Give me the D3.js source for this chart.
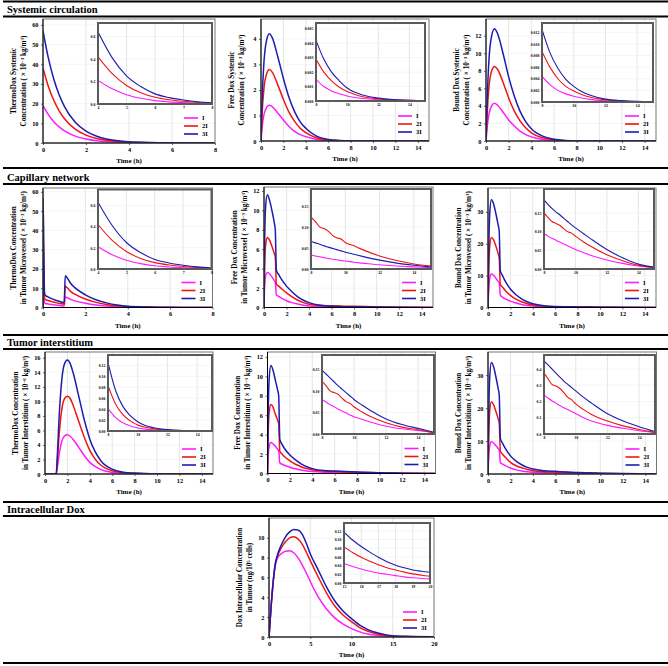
<!DOCTYPE html>
<html><head><meta charset="utf-8">
<script src="https://cdn.jsdelivr.net/npm/d3@7/dist/d3.min.js"></script>
<style>
body{margin:0;background:#fff}
svg{display:block}
text{font-family:"Liberation Serif","Times New Roman",serif;font-weight:bold;fill:#000}
</style>
</head><body>
<svg id="c" width="668" height="666"></svg>
<script>
// ---------- series labels ----------
const seriesNames = ["I", "2I", "3I"];
const seriesColors = ["#ff1aff", "#ee1515", "#1c1cb0"];

// ---------- tick labels ----------
const ticks8 = [0, 2, 4, 6, 8];
const ticks15 = [0, 2, 4, 6, 8, 10, 12, 14];
const ticks20 = [0, 5, 10, 15, 20];
const insetTicks4to8 = [4, 5, 6, 7, 8];
const insetTicks8to15 = [8, 10, 12, 14];
const insetTicks15to20 = [15, 16, 17, 18, 19, 20];

// ---------- P1 ThermoDox systemic ----------
const p1_t  = [0,0.25,0.5,0.75,1,1.5,2,2.5,3,3.5,4,5,6,7,8];
const p1_I  = [19,14.4,10.8,8.2,6.2,3.5,2.0,1.13,0.65,0.37,0.21,0.083,0.03,0.012,0.004];
const p1_2I = [38,28.7,21.7,16.3,12.3,7.0,4.0,2.27,1.3,0.73,0.42,0.165,0.06,0.024,0.007];
const p1_3I = [57,43.1,32.5,24.5,18.5,10.5,6.0,3.4,1.95,1.1,0.64,0.25,0.09,0.036,0.01];
const p1in_t  = [4,4.5,5,5.5,6,6.5,7,7.5,8];
const p1in_I  = [0.21,0.135,0.083,0.051,0.03,0.019,0.012,0.007,0.004];
const p1in_2I = [0.42,0.27,0.165,0.10,0.06,0.038,0.024,0.014,0.007];
const p1in_3I = [0.64,0.41,0.25,0.155,0.09,0.057,0.036,0.02,0.01];

// ---------- P2 Free Dox systemic ----------
const p2_t  = [0,0.1,0.25,0.5,0.75,1,1.5,2,2.5,3,3.5,4,5,6,7,8,10,12,15];
const p2_I  = [0,0.53,1.0,1.32,1.4,1.35,1.1,0.82,0.57,0.38,0.25,0.17,0.06,0.02,0.007,0.0015,0.0003,0.00007,0.00001];
const p2_2I = [0,1.07,2.0,2.63,2.8,2.7,2.2,1.63,1.13,0.77,0.5,0.33,0.12,0.04,0.013,0.003,0.0006,0.00014,0.00001];
const p2_3I = [0,1.6,3.0,3.95,4.2,4.05,3.3,2.45,1.7,1.15,0.75,0.5,0.18,0.06,0.02,0.004,0.0009,0.0002,0.00002];
const p2in_t  = [8,8.5,9,9.5,10,10.5,11,12,13,14,15];
const p2in_I  = [0.0015,0.001,0.0007,0.0005,0.00034,0.00024,0.00017,0.00009,0.00005,0.00003,0.00001];
const p2in_2I = [0.0029,0.002,0.0014,0.00095,0.00065,0.00045,0.0003,0.00015,0.00008,0.00004,0.00002];
const p2in_3I = [0.0042,0.0029,0.002,0.0014,0.0009,0.0006,0.00042,0.0002,0.0001,0.00005,0.00002];

// ---------- P3 Bound Dox systemic ----------
const p3_t  = [0,0.1,0.25,0.5,0.75,1,1.5,2,2.5,3,3.5,4,5,6,7,8,10,12,15];
const p3_I  = [0,1.5,3.0,4.0,4.3,4.1,3.3,2.4,1.7,1.13,0.73,0.47,0.18,0.07,0.02,0.0043,0.0009,0.00017,0.00002];
const p3_2I = [0,3.0,6.0,8.0,8.5,8.2,6.7,4.9,3.4,2.3,1.5,0.93,0.37,0.13,0.04,0.0087,0.0018,0.0003,0.00003];
const p3_3I = [0,4.5,9.0,12.0,12.8,12.3,10.0,7.3,5.1,3.4,2.2,1.4,0.55,0.2,0.06,0.0125,0.0027,0.0005,0.00005];
const p3in_t  = [8,8.5,9,9.5,10,10.5,11,12,13,14,15];
const p3in_I  = [0.0044,0.003,0.002,0.0014,0.001,0.0007,0.00045,0.0002,0.0001,0.00005,0.00002];
const p3in_2I = [0.0087,0.006,0.004,0.0027,0.0019,0.0013,0.00085,0.00037,0.00017,0.00008,0.00004];
const p3in_3I = [0.0125,0.0085,0.0058,0.0039,0.0027,0.0018,0.0012,0.0005,0.00025,0.0001,0.00005];

// ---------- P4 ThermoDox tumor microvessel ----------
const p4_t  = [0,0.005,0.07,0.1,0.2,0.4,0.6,0.8,1.0,1.05,1.1,1.3,1.5,2,2.5,3,3.5,4,5,6,7,8];
const p4_I  = [0,19,2.7,2.1,1.9,1.53,1.27,1.03,0.83,5.5,5.35,4.2,3.45,2.2,1.33,0.8,0.43,0.21,0.083,0.03,0.012,0.004];
const p4_2I = [0,38,5.3,4.2,3.8,3.07,2.53,2.07,1.67,11.0,10.7,8.4,6.9,4.4,2.67,1.6,0.87,0.42,0.165,0.06,0.024,0.007];
const p4_3I = [0,57,8,6.3,5.7,4.6,3.8,3.1,2.5,16.5,16.0,12.6,10.3,6.6,4.0,2.4,1.3,0.64,0.25,0.09,0.036,0.01];
const p4in_t  = [4,4.5,5,5.5,6,6.5,7,7.5,8];
const p4in_I  = [0.21,0.135,0.083,0.051,0.03,0.019,0.012,0.007,0.004];
const p4in_2I = [0.42,0.27,0.165,0.10,0.06,0.038,0.024,0.014,0.007];
const p4in_3I = [0.63,0.41,0.25,0.155,0.09,0.057,0.036,0.02,0.01];

// ---------- P5 Free Dox tumor microvessel ----------
const p5_t  = [0,0.05,0.15,0.3,0.5,0.7,0.9,1.0,1.1,1.3,1.5,2,2.5,3,3.5,4,5,6,7,8,10,12,15];
const p5_I  = [0,2,3.3,3.6,3.45,3.15,2.8,2.6,1.3,1.15,1.0,0.7,0.5,0.35,0.24,0.15,0.08,0.055,0.042,0.033,0.019,0.01,0.003];
const p5_2I = [0,4,6.5,7.2,6.9,6.3,5.6,5.2,2.4,2.2,2.0,1.5,1.1,0.75,0.5,0.33,0.2,0.17,0.14,0.123,0.063,0.031,0.007];
const p5_3I = [0,6,10.5,11.6,11.0,10.0,8.8,8.0,3.8,3.4,3.0,2.2,1.6,1.1,0.75,0.5,0.22,0.12,0.09,0.066,0.04,0.021,0.005];
const p5in_t  = [8,8.25,8.5,8.75,9,9.25,9.5,9.75,10,10.5,11,12,13,14,15];
const p5in_I  = [0.033,0.031,0.029,0.027,0.025,0.023,0.022,0.02,0.019,0.016,0.014,0.01,0.007,0.005,0.003];
const p5in_2I = [0.123,0.113,0.1,0.096,0.09,0.08,0.074,0.071,0.063,0.055,0.046,0.031,0.02,0.012,0.007];
const p5in_3I = [0.066,0.062,0.059,0.055,0.052,0.049,0.046,0.043,0.04,0.035,0.03,0.021,0.014,0.009,0.005];

// ---------- P6 Bound Dox tumor microvessel ----------
const p6_t  = [0,0.05,0.15,0.3,0.5,0.7,0.9,1.0,1.1,1.3,1.5,2,2.5,3,3.5,4,5,6,7,8,10,12,15];
const p6_I  = [0,4.3,9,10.5,10.1,9.2,8.2,7.8,3.9,3.2,2.8,2.0,1.4,0.95,0.65,0.45,0.2,0.12,0.1,0.095,0.052,0.024,0.003];
const p6_2I = [0,9,19,22,21.2,19.3,17,15.5,7.2,6.4,5.5,3.8,2.6,1.8,1.2,0.8,0.38,0.22,0.17,0.15,0.088,0.038,0.004];
const p6_3I = [0,14,29,33.8,32.5,29.5,26,24,11.5,10,8.5,5.8,4.0,2.7,1.8,1.2,0.55,0.3,0.22,0.185,0.11,0.05,0.005];
const p6in_t  = [8,8.25,8.5,8.75,9,9.25,9.5,9.75,10,10.5,11,12,13,14,15];
const p6in_I  = [0.095,0.088,0.082,0.077,0.072,0.067,0.062,0.057,0.052,0.044,0.036,0.024,0.015,0.008,0.003];
const p6in_2I = [0.15,0.138,0.127,0.122,0.117,0.108,0.1,0.096,0.088,0.073,0.06,0.038,0.022,0.01,0.004];
const p6in_3I = [0.185,0.173,0.162,0.153,0.145,0.136,0.127,0.118,0.11,0.095,0.08,0.052,0.03,0.013,0.005];

// ---------- P7 ThermoDox tumor interstitium ----------
const p7_t  = [0,1.0,1.1,1.25,1.5,1.75,2,2.25,2.5,3,3.5,4,4.5,5,6,7,8,10,12,15];
const p7_I  = [0,0,0.85,2.55,4.5,5.25,5.4,5.2,4.8,3.7,2.55,1.6,1.0,0.6,0.22,0.08,0.041,0.0055,0.0008,0.0001];
const p7_2I = [0,0,1.7,5.1,8.9,10.4,10.7,10.4,9.5,7.3,5.1,3.25,2.0,1.2,0.43,0.16,0.083,0.011,0.0016,0.0001];
const p7_3I = [0,0,2.5,7.5,13.0,15.2,15.7,15.2,14.0,10.8,7.5,4.8,3.0,1.8,0.65,0.25,0.125,0.017,0.0025,0.0002];
const p7in_t  = [8,8.5,9,9.5,10,10.5,11,12,13,14,15];
const p7in_I  = [0.041,0.025,0.015,0.0093,0.0056,0.0034,0.0021,0.0008,0.0003,0.00015,0.0001];
const p7in_2I = [0.083,0.05,0.03,0.0185,0.011,0.0068,0.0043,0.0016,0.0007,0.0003,0.0001];
const p7in_3I = [0.125,0.075,0.045,0.028,0.017,0.01,0.0065,0.0025,0.001,0.0004,0.0002];

// ---------- P8 Free Dox tumor interstitium ----------
const p8_t  = [0,0.05,0.15,0.3,0.5,0.7,0.9,1.0,1.1,1.3,1.5,2,2.5,3,3.5,4,5,6,7,8,10,12,15];
const p8_I  = [0,1.5,2.8,3.2,3.05,2.8,2.5,2.35,1.1,0.95,0.85,0.65,0.48,0.35,0.26,0.2,0.13,0.1,0.09,0.08,0.04,0.018,0.003];
const p8_2I = [0,3.3,6.3,7.1,6.8,6.1,5.5,5.1,2.3,2.0,1.75,1.3,0.95,0.7,0.5,0.38,0.25,0.2,0.16,0.122,0.063,0.026,0.003];
const p8_3I = [0,5,9.8,11.1,10.6,9.6,8.6,8.0,3.5,3.0,2.6,1.9,1.4,1.0,0.7,0.5,0.3,0.25,0.2,0.148,0.08,0.035,0.004];
const p8in_t  = [8,8.25,8.5,8.75,9,9.25,9.5,9.75,10,10.5,11,12,13,14,15];
const p8in_I  = [0.08,0.074,0.068,0.063,0.058,0.053,0.049,0.044,0.04,0.034,0.028,0.018,0.012,0.008,0.003];
const p8in_2I = [0.122,0.112,0.1,0.096,0.092,0.083,0.075,0.071,0.063,0.051,0.041,0.026,0.016,0.01,0.003];
const p8in_3I = [0.148,0.139,0.13,0.121,0.112,0.104,0.096,0.088,0.08,0.067,0.055,0.035,0.022,0.013,0.004];

// ---------- P9 Bound Dox tumor interstitium ----------
const p9_t  = [0,0.05,0.15,0.3,0.5,0.7,0.9,1.0,1.1,1.3,1.5,2,2.5,3,3.5,4,5,6,7,8,10,12,15];
const p9_I  = [0,4,8.5,9.8,9.4,8.6,7.8,7.3,3.5,3.0,2.6,1.8,1.25,0.9,0.65,0.5,0.38,0.32,0.27,0.24,0.125,0.053,0.008];
const p9_2I = [0,9,19,21.9,21,19,16.8,15.5,7.0,6.0,5.2,3.5,2.5,1.9,1.35,1.0,0.7,0.55,0.45,0.375,0.185,0.08,0.01];
const p9_3I = [0,14,29,33.8,32.5,29.5,26,24,10.8,9.3,8.0,5.5,3.9,2.8,2.0,1.5,1.0,0.8,0.6,0.45,0.265,0.125,0.015];
const p9in_t  = [8,8.25,8.5,8.75,9,9.25,9.5,9.75,10,10.5,11,12,13,14,15];
const p9in_I  = [0.24,0.222,0.205,0.19,0.175,0.162,0.15,0.138,0.125,0.1,0.08,0.053,0.035,0.02,0.008];
const p9in_2I = [0.375,0.34,0.305,0.295,0.28,0.255,0.225,0.21,0.185,0.15,0.12,0.08,0.05,0.028,0.01];
const p9in_3I = [0.45,0.425,0.40,0.375,0.35,0.325,0.305,0.285,0.265,0.225,0.19,0.125,0.08,0.045,0.015];

// ---------- P10 Intracellular Dox ----------
const p10_t  = [0,0.25,0.5,0.75,1,1.5,2,2.5,3,3.5,4,4.5,5,6,7,8,9,10,11,12,13,14,15,17,20];
const p10_I  = [0,3.0,5.5,7.2,7.9,8.4,8.65,8.7,8.5,8.0,7.3,6.5,5.6,4.0,2.8,1.9,1.3,0.85,0.52,0.3,0.17,0.09,0.045,0.023,0.0095];
const p10_2I = [0,3.0,5.5,7.3,8.1,9.0,9.6,10.0,10.1,9.9,9.4,8.6,7.7,6.0,4.4,3.1,2.2,1.55,0.95,0.58,0.33,0.17,0.083,0.042,0.0155];
const p10_3I = [0,3.0,5.5,7.3,8.2,9.3,10.1,10.6,10.85,10.8,10.4,9.5,8.4,6.7,5.0,3.6,2.6,1.85,1.2,0.75,0.45,0.25,0.117,0.058,0.0247];
const p10in_t  = [15,15.5,16,16.5,17,17.5,18,18.5,19,19.5,20];
const p10in_I  = [0.045,0.038,0.032,0.027,0.023,0.02,0.017,0.014,0.012,0.0105,0.0095];
const p10in_2I = [0.083,0.07,0.059,0.05,0.042,0.035,0.03,0.025,0.021,0.018,0.0155];
const p10in_3I = [0.117,0.099,0.084,0.071,0.059,0.049,0.041,0.035,0.03,0.027,0.0247];

// ---------- section titles & axis labels ----------
const sectionTitles = ["Systemic circulation", "Capillary network", "Tumor interstitium", "Intracellular Dox"];
const xLabel = "Time (h)";

const svg = d3.select("#c");
const FONT = "'Liberation Serif','Times New Roman',serif";

// section separator lines and titles
const sepLines = [1.5, 16.5, 168, 184, 335, 349, 502, 516, 663];
sepLines.forEach(y => svg.append("line").attr("x1", 3).attr("x2", 668).attr("y1", y).attr("y2", y)
  .attr("stroke", "#000").attr("stroke-width", 2));
const titleY = [13, 180.5, 345.5, 512.5];
sectionTitles.forEach((s, i) => svg.append("text").attr("x", 7).attr("y", titleY[i])
  .attr("font-size", 10.5).text(s));

// concentration label builder: parts of [text, isSup]
function conc(exp, unit) {
  return [["( × 10", false], [exp, true], [" " + unit, false], ["3", true], [")", false]];
}

function drawAxisLabels(g, P) {
  const cy = (P.T + P.B) / 2;
  P.ylab.forEach((parts, k) => {
    const xx = P.L - 30 + k * 10;
    const t = g.append("text").attr("transform", `translate(${xx},${cy}) rotate(-90)`)
      .attr("text-anchor", "middle").attr("dy", "0.35em").attr("font-size", 7.2);
    if (typeof parts === "string") { t.text(parts); return; }
    parts.forEach(([s, sup]) => {
      const ts = t.append("tspan").text(s);
      if (sup) ts.attr("font-size", 5).attr("baseline-shift", "45%");
    });
  });
  g.append("text").attr("x", (P.L + P.R) / 2).attr("y", P.B + 20).attr("text-anchor", "middle")
    .attr("font-size", 7).text(xLabel);
}

let clipN = 0;
function drawFrame(g, box, opts) {
  const x = d3.scaleLinear().domain(box.xDom).range([box.L, box.R]);
  const y = d3.scaleLinear().domain(box.yDom).range([box.B, box.T]);
  g.append("rect").attr("x", box.L).attr("y", box.T).attr("width", box.R - box.L).attr("height", box.B - box.T)
    .attr("fill", "#fff");
  // grid
  g.selectAll(null).data(box.xTicks.filter(d => d > box.xDom[0] && d < box.xDom[1])).join("line")
    .attr("x1", d => x(d)).attr("x2", d => x(d)).attr("y1", box.T).attr("y2", box.B)
    .attr("stroke", "#dedede").attr("stroke-width", 0.8);
  g.selectAll(null).data(box.yTicks.filter(d => d > box.yDom[0] && d < box.yDom[1])).join("line")
    .attr("x1", box.L).attr("x2", box.R).attr("y1", d => y(d)).attr("y2", d => y(d))
    .attr("stroke", "#efefef").attr("stroke-width", 0.6);
  // curves
  const id = "clip" + (clipN++);
  svg.append("clipPath").attr("id", id).append("rect")
    .attr("x", box.L).attr("y", box.T - 1).attr("width", box.R - box.L).attr("height", box.B - box.T + 1);
  const line = d3.line().x(d => x(d[0])).y(d => y(d[1])).curve(d3.curveMonotoneX);
  box.series.forEach((vals, i) => {
    g.append("path").attr("d", line(d3.zip(box.t, vals))).attr("fill", "none")
      .attr("stroke", seriesColors[i]).attr("stroke-width", opts.lw).attr("clip-path", `url(#${id})`);
  });
  // axes
  const fs = opts.fs;
  const gx = g.append("g").attr("transform", `translate(0,${box.B})`)
    .call(d3.axisBottom(x).tickValues(box.xTicks).tickSize(opts.tick).tickPadding(opts.pad).tickFormat(d3.format("d")));
  const gy = g.append("g").attr("transform", `translate(${box.L},0)`)
    .call(d3.axisLeft(y).tickValues(box.yTicks).tickSize(opts.tick).tickPadding(opts.pad).tickFormat(d3.format(box.yFmt)));
  [gx, gy].forEach(a => {
    a.select(".domain").remove();
    a.attr("font-size", fs).attr("font-family", FONT).attr("font-weight", "bold");
    a.selectAll("line").attr("stroke", "#000").attr("stroke-width", 0.6);
  });
  // border
  if (opts.inset) {
    g.append("rect").attr("x", box.L).attr("y", box.T).attr("width", box.R - box.L).attr("height", box.B - box.T)
      .attr("fill", "none").attr("stroke", "#5a5a5a").attr("stroke-width", 2);
  } else {
    g.append("rect").attr("x", box.L).attr("y", box.T).attr("width", box.R - box.L).attr("height", box.B - box.T)
      .attr("fill", "none").attr("stroke", "#777").attr("stroke-width", 1);
    g.append("line").attr("x1", box.L).attr("x2", box.L).attr("y1", box.T).attr("y2", box.B).attr("stroke", "#000").attr("stroke-width", 1);
    g.append("line").attr("x1", box.L).attr("x2", box.R).attr("y1", box.B).attr("y2", box.B).attr("stroke", "#000").attr("stroke-width", 1);
  }
}

function drawLegend(g, P) {
  const lx = P.R - 31, ly = P.B - 25;
  seriesNames.forEach((n, i) => {
    g.append("line").attr("x1", lx).attr("x2", lx + 14).attr("y1", ly + i * 8).attr("y2", ly + i * 8)
      .attr("stroke", seriesColors[i]).attr("stroke-width", 1.6);
    g.append("text").attr("x", lx + 18).attr("y", ly + i * 8).attr("dy", "0.35em").attr("font-size", 6.5).text(n);
  });
}

const panels = [
  { main: { L: 43, R: 215, T: 19, B: 143, xDom: [0, 8], xTicks: ticks8, yDom: [0, 63], yTicks: [0,10,20,30,40,50,60], yFmt: "d", t: p1_t, series: [p1_I, p1_2I, p1_3I] },
    inset: { L: 98, R: 212, T: 23, B: 104, xDom: [4, 8], xTicks: insetTicks4to8, yDom: [0, 0.72], yTicks: [0,0.2,0.4,0.6], yFmt: ".1f", t: p1in_t, series: [p1in_I, p1in_2I, p1in_3I] },
    ylab: ["ThermoDox Systemic", [["Concentration ", false]].concat(conc("−3", "kg/m"))] },
  { main: { L: 261, R: 429, T: 19, B: 141, xDom: [0, 15], xTicks: ticks15, yDom: [0, 4.78], yTicks: [0,1,2,3,4], yFmt: "d", t: p2_t, series: [p2_I, p2_2I, p2_3I] },
    inset: { L: 316, R: 425, T: 23, B: 101, xDom: [8, 15], xTicks: insetTicks8to15, yDom: [0, 0.0054], yTicks: [0,0.001,0.002,0.003,0.004,0.005], yFmt: ".3f", t: p2in_t, series: [p2in_I, p2in_2I, p2in_3I] },
    ylab: ["Free Dox Systemic", [["Concentration ", false]].concat(conc("−3", "kg/m"))] },
  { main: { L: 486, R: 656, T: 19, B: 141, xDom: [0, 15], xTicks: ticks15, yDom: [0, 13.9], yTicks: [0,2,4,6,8,10,12], yFmt: "d", t: p3_t, series: [p3_I, p3_2I, p3_3I] },
    inset: { L: 542, R: 653, T: 23, B: 102, xDom: [8, 15], xTicks: insetTicks8to15, yDom: [0, 0.0136], yTicks: [0,0.002,0.004,0.006,0.008,0.010,0.012], yFmt: ".3f", t: p3in_t, series: [p3in_I, p3in_2I, p3in_3I] },
    ylab: ["Bound Dox Systemic", [["Concentration ", false]].concat(conc("−3", "kg/m"))] },
  { main: { L: 43, R: 212.5, T: 188, B: 307.5, xDom: [0, 8], xTicks: ticks8, yDom: [0, 62], yTicks: [0,10,20,30,40,50,60], yFmt: "d", t: p4_t, series: [p4_I, p4_2I, p4_3I] },
    inset: { L: 98, R: 211.5, T: 189.5, B: 269, xDom: [4, 8], xTicks: insetTicks4to8, yDom: [0, 0.75], yTicks: [0,0.2,0.4,0.6], yFmt: ".1f", t: p4in_t, series: [p4in_I, p4in_2I, p4in_3I] },
    ylab: ["ThermoDox Concentration", [["in Tumor Microvessel ", false]].concat(conc("−3", "kg/m"))] },
  { main: { L: 264, R: 433, T: 187, B: 307.5, xDom: [0, 15], xTicks: ticks15, yDom: [0, 12.4], yTicks: [0,2,4,6,8,10,12], yFmt: "d", t: p5_t, series: [p5_I, p5_2I, p5_3I] },
    inset: { L: 311, R: 431, T: 189, B: 269, xDom: [8, 15], xTicks: insetTicks8to15, yDom: [0, 0.19], yTicks: [0,0.05,0.10,0.15], yFmt: ".2f", t: p5in_t, series: [p5in_I, p5in_2I, p5in_3I] },
    ylab: ["Free Dox Concentration", [["in Tumor Microvessel ", false]].concat(conc("−3", "kg/m"))] },
  { main: { L: 488, R: 656, T: 188, B: 307.5, xDom: [0, 15], xTicks: ticks15, yDom: [0, 37.5], yTicks: [0,10,20,30], yFmt: "d", t: p6_t, series: [p6_I, p6_2I, p6_3I] },
    inset: { L: 544, R: 654, T: 189, B: 269, xDom: [8, 15], xTicks: insetTicks8to15, yDom: [0, 0.214], yTicks: [0,0.05,0.10,0.15], yFmt: ".2f", t: p6in_t, series: [p6in_I, p6in_2I, p6in_3I] },
    ylab: ["Bound Dox Concentration", [["in Tumor Microvessel ", false]].concat(conc("−3", "kg/m"))] },
  { main: { L: 45, R: 213, T: 352, B: 474, xDom: [0, 15], xTicks: ticks15, yDom: [0, 16.8], yTicks: [0,2,4,6,8,10,12,14,16], yFmt: "d", t: p7_t, series: [p7_I, p7_2I, p7_3I] },
    inset: { L: 108, R: 212, T: 355, B: 431, xDom: [8, 15], xTicks: insetTicks8to15, yDom: [0, 0.139], yTicks: [0,0.02,0.04,0.06,0.08,0.10,0.12], yFmt: ".2f", t: p7in_t, series: [p7in_I, p7in_2I, p7in_3I] },
    ylab: ["ThermoDox Concentration", [["in Tumor Interstitium ", false]].concat(conc("−6", "kg/m"))] },
  { main: { L: 267.5, R: 435.5, T: 352, B: 473.5, xDom: [0, 15], xTicks: ticks15, yDom: [0, 12.5], yTicks: [0,2,4,6,8,10,12], yFmt: "d", t: p8_t, series: [p8_I, p8_2I, p8_3I] },
    inset: { L: 322, R: 434, T: 355, B: 434, xDom: [8, 15], xTicks: insetTicks8to15, yDom: [0, 0.183], yTicks: [0,0.05,0.10,0.15], yFmt: ".2f", t: p8in_t, series: [p8in_I, p8in_2I, p8in_3I] },
    ylab: ["Free Dox Concentration", [["in Tumor Interstitium ", false]].concat(conc("−3", "kg/m"))] },
  { main: { L: 488, R: 656.5, T: 352, B: 474, xDom: [0, 15], xTicks: ticks15, yDom: [0, 37], yTicks: [0,10,20,30], yFmt: "d", t: p9_t, series: [p9_I, p9_2I, p9_3I] },
    inset: { L: 544, R: 655, T: 355, B: 434, xDom: [8, 15], xTicks: insetTicks8to15, yDom: [0, 0.486], yTicks: [0,0.1,0.2,0.3,0.4], yFmt: ".1f", t: p9in_t, series: [p9in_I, p9in_2I, p9in_3I] },
    ylab: ["Bound Dox Concentration", [["in Tumor Interstitium  ", false]].concat(conc("−3", "kg/m"))] },
  { main: { L: 269, R: 434, T: 518, B: 637, xDom: [0, 20], xTicks: ticks20, yDom: [0, 12], yTicks: [0,2,4,6,8,10], yFmt: "d", t: p10_t, series: [p10_I, p10_2I, p10_3I] },
    inset: { L: 344, R: 430, T: 523, B: 583, xDom: [15, 20], xTicks: insetTicks15to20, yDom: [0, 0.138], yTicks: [0,0.02,0.04,0.06,0.08,0.10,0.12], yFmt: ".2f", t: p10in_t, series: [p10in_I, p10in_2I, p10in_3I] },
    ylab: ["Dox Intracellular Concentration", [["in Tumor (ng/10", false], ["5", true], [" cells)", false]]] }
];

panels.forEach(P => {
  const g = svg.append("g");
  drawFrame(g, P.main, { lw: 1.5, fs: 6.3, tick: 2, pad: 2.5, inset: false });
  drawFrame(g, P.inset, { lw: 1.1, fs: 3.8, tick: 1.2, pad: 1.5, inset: true });
  drawLegend(g, P.main);
  drawAxisLabels(g, { L: P.main.L, R: P.main.R, T: P.main.T, B: P.main.B, ylab: P.ylab });
});
</script>
</body></html>
